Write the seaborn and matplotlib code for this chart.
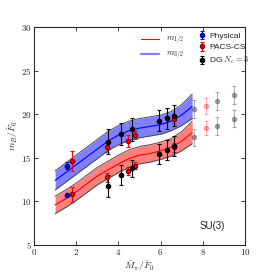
import matplotlib
matplotlib.use("Agg")
import matplotlib.pyplot as plt
import seaborn as sns

# fit bands
band_x = [1.0, 1.5, 2.0, 2.5, 3.0, 3.5, 4.0, 4.5, 5.0, 5.5, 6.0, 6.5, 7.0, 7.5]
m32_mid = [12.4, 13.3, 14.2, 15.1, 16.0, 16.9, 17.6, 18.1, 18.4, 18.6, 18.8, 19.2, 19.9, 20.9]
m12_mid = [9.6, 10.3, 11.1, 12.0, 12.9, 13.6, 14.3, 14.9, 15.3, 15.5, 15.8, 16.2, 16.9, 17.9]
m32_half = [1.1, 1.1, 1.1, 1.1, 1.1, 1.1, 1.1, 1.1, 1.1, 1.1, 1.1, 1.1, 1.2, 1.4]
m12_half = [1.0, 1.0, 1.0, 1.0, 1.0, 1.0, 1.0, 1.0, 1.0, 1.0, 1.0, 1.0, 1.1, 1.3]

# physical point
phys_x = [1.58, 1.58]
phys_y = [14.1, 10.73]
phys_err = [0.4, 0.15]

# PACS-CS
pacs_x = [1.8, 3.46, 4.47, 4.8, 6.65, 1.8, 3.46, 4.47, 4.8, 6.65]
pacs_y = [14.63, 16.27, 16.96, 17.6, 19.45, 10.82, 12.76, 13.49, 14.1, 16.2]
pacs_err = [1.15, 0.6, 0.7, 0.5, 0.5, 0.85, 0.5, 0.5, 0.4, 0.5]

# DG Nc=3
dg_x = [3.5, 4.11, 4.66, 5.92, 6.32, 6.65, 3.5, 4.11, 4.66, 5.92, 6.32, 6.65]
dg_y = [16.85, 17.73, 18.27, 19.26, 19.53, 19.83, 11.77, 13.03, 13.8, 15.44, 15.9, 16.35]
dg_err = [1.4, 1.3, 1.3, 1.2, 1.2, 1.2, 1.3, 1.1, 1.0, 1.1, 1.1, 1.1]

# points outside the fit range (faded)
dg_out_x = [7.57, 8.7, 9.48, 7.57, 8.7, 9.48]
dg_out_y = [20.6, 21.5, 22.2, 17.35, 18.65, 19.5]
dg_out_err = [1.0, 1.0, 1.0, 1.0, 1.0, 1.0]
pacs_out_x = [8.18, 8.18]
pacs_out_y = [20.97, 18.38]
pacs_out_err = [0.9, 0.8]

x_ticks = [0, 2, 4, 6, 8, 10]
y_ticks = [5, 10, 15, 20, 25, 30]

sns.set_style("ticks")
plt.rcParams["mathtext.fontset"] = "cm"
plt.rcParams["font.family"] = ["DejaVu Sans"]

fig = plt.figure(figsize=(2.73, 2.73), dpi=100)
ax = fig.add_axes([0.1245, 0.1026, 0.7725, 0.7985])

for mid, half, col in [(m12_mid, m12_half, "red"), (m32_mid, m32_half, "blue")]:
    lo = [m - h for m, h in zip(mid, half)]
    hi = [m + h for m, h in zip(mid, half)]
    ax.fill_between(band_x, lo, hi, color=col, alpha=0.5, lw=0)
    ax.plot(band_x, lo, color="0.3", lw=0.7)
    ax.plot(band_x, hi, color="0.3", lw=0.7)
    sns.lineplot(x=band_x, y=mid, color=col, lw=0.8, ax=ax)

eb = dict(fmt="o", ms=3, capsize=1.5, elinewidth=0.8, capthick=0.8)
ax.errorbar(dg_out_x, dg_out_y, yerr=dg_out_err, color="black", alpha=0.3, **eb)
ax.errorbar(pacs_out_x, pacs_out_y, yerr=pacs_out_err, color="red", alpha=0.3, **eb)
h_phys = ax.errorbar(phys_x, phys_y, yerr=phys_err, color="blue", mec="darkblue", **eb)
h_pacs = ax.errorbar(pacs_x, pacs_y, yerr=pacs_err, color="red", mec="darkred", **eb)
h_dg = ax.errorbar(dg_x, dg_y, yerr=dg_err, color="black", **eb)

ax.set_xlim(0, 10)
ax.set_ylim(5, 30)
ax.set_xticks(x_ticks)
ax.set_xticklabels([f"${t}$" for t in x_ticks])
ax.set_yticks(y_ticks)
ax.set_yticklabels([f"${t}$" for t in y_ticks])
ax.tick_params(direction="in", top=True, right=True, labelsize=6.5, length=3, width=0.6, pad=1.5)
for s in ax.spines.values():
    s.set_linewidth(0.8)
ax.set_xlabel(r"$\hat{M}_\pi/\hat{F}_0$", fontsize=7, labelpad=1)
ax.set_ylabel(r"$m_B/\hat{F}_0$", fontsize=7, labelpad=1)

sans = ["Liberation Sans", "DejaVu Sans"]
l1, = ax.plot([], [], color="red", lw=0.8)
l2, = ax.plot([], [], color="#8080ff", lw=1.6)
leg1 = ax.legend([l1, l2], [r"$m_{1/2}$", r"$m_{3/2}$"], loc="upper left",
                 bbox_to_anchor=(0.47, 1.0), frameon=False, fontsize=6,
                 handlelength=2.2, labelspacing=0.35)
ax.add_artist(leg1)
ax.legend([h_phys, h_pacs, h_dg], ["Physical", "PACS-CS", r"DG $N_c=3$"],
          loc="upper left", bbox_to_anchor=(0.745, 1.01), frameon=False,
          prop={"family": sans, "size": 6}, handlelength=0.8, handletextpad=0.5,
          labelspacing=0.4)

ax.text(8.47, 7.2, "SU(3)", fontsize=7, family=sans, ha="center", va="center")

fig.savefig("out.png", dpi=100)
